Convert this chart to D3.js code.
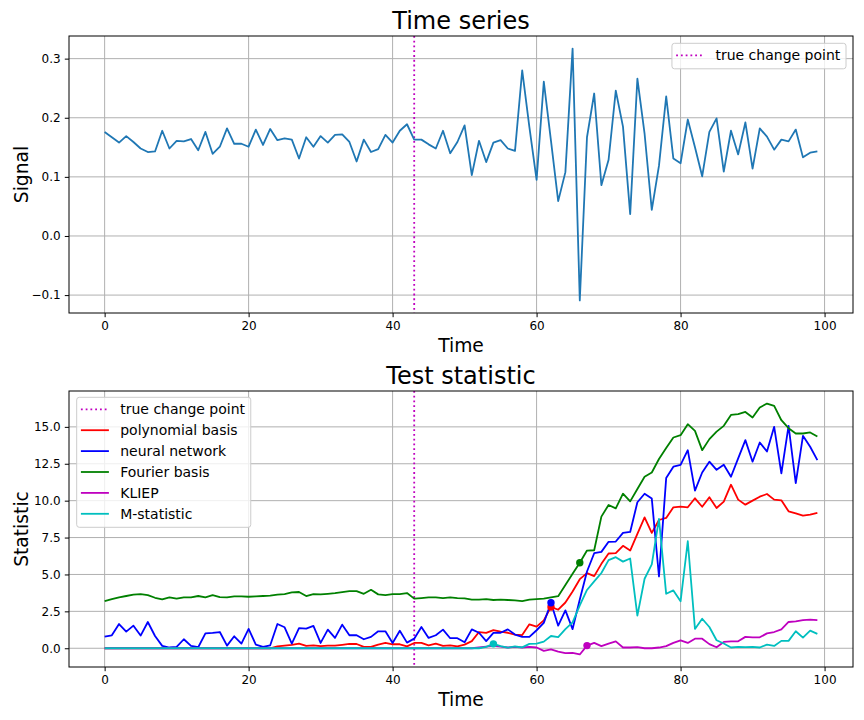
<!DOCTYPE html>
<html>
<head>
<meta charset="utf-8">
<script src="https://cdn.jsdelivr.net/npm/d3@7"></script>
<style>
  body { margin: 0; background: #fff; }
  svg text { font-family: "DejaVu Sans", sans-serif; fill: #000; }
</style>
</head>
<body>
<svg id="chart" width="864" height="720"></svg>
<script>

// values
var signal = [
    0.176, 0.167, 0.158, 0.169, 0.159, 0.148, 0.142, 0.143, 0.178, 0.148,
    0.161, 0.160, 0.164, 0.145, 0.176, 0.139, 0.151, 0.182, 0.156, 0.156,
    0.151, 0.180, 0.154, 0.181, 0.162, 0.165, 0.163, 0.131, 0.167, 0.151,
    0.169, 0.158, 0.171, 0.172, 0.159, 0.126, 0.163, 0.142, 0.147, 0.171,
    0.158, 0.178, 0.189, 0.163, 0.163, 0.155, 0.148, 0.178, 0.140, 0.159,
    0.187, 0.103, 0.161, 0.125, 0.158, 0.162, 0.148, 0.144, 0.280, 0.184,
    0.095, 0.261, 0.161, 0.059, 0.108, 0.317, -0.109, 0.167, 0.241, 0.086,
    0.129, 0.246, 0.185, 0.037, 0.266, 0.173, 0.044, 0.119, 0.236, 0.131,
    0.123, 0.197, 0.150, 0.101, 0.176, 0.199, 0.109, 0.178, 0.138, 0.192,
    0.114, 0.182, 0.168, 0.146, 0.163, 0.160, 0.180, 0.133, 0.141, 0.143
];

var polynomial = [
    0, 0, 0, 0, 0, 0, 0, 0, 0, 0,
    0, 0, 0, 0, 0, 0, 0, 0, 0, 0,
    0, 0, 0, 0, 0.13, 0.18, 0.23, 0.32, 0.16, 0.20,
    0.15, 0.18, 0.18, 0.23, 0.29, 0.29, 0.09, 0.09, 0.25, 0.36,
    0.27, 0.27, 0.13, 0.36, 0.36, 0.20, 0.32, 0.16, 0.20, 0.13,
    0.25, 0.48, 1.10, 1.04, 1.23, 1.12, 1.05, 0.93, 0.89, 1.62,
    1.47, 1.89, 2.80, 2.61, 3.10, 3.85, 4.68, 5.09, 4.89, 5.72,
    6.42, 6.44, 6.94, 6.62, 7.75, 8.87, 7.82, 8.69, 8.83, 9.55,
    9.59, 9.55, 10.16, 9.59, 10.23, 9.50, 9.93, 11.08, 10.07, 9.73,
    10.00, 10.27, 10.45, 10.07, 10.02, 9.28, 9.14, 8.99, 9.05, 9.17
];

var neural = [
    0.79, 0.88, 1.64, 1.13, 1.53, 0.86, 1.78, 0.83, 0.16, 0.05,
    0.09, 0.61, 0.16, 0.07, 1.01, 1.04, 1.10, 0.18, 0.81, 0.32,
    1.31, 0.25, 0.09, 0.20, 1.64, 1.42, 0.32, 1.37, 1.33, 1.51,
    0.36, 1.26, 0.70, 1.60, 0.88, 0.88, 0.61, 0.77, 1.15, 1.15,
    0.36, 1.19, 0.38, 0.65, 1.44, 0.70, 0.88, 1.26, 0.68, 0.68,
    0.41, 1.28, 1.05, 0.48, 1.04, 1.05, 1.28, 0.93, 0.77, 0.77,
    1.22, 1.72, 3.08, 1.53, 2.57, 1.30, 3.30, 5.20, 6.44, 6.53,
    7.21, 7.23, 7.82, 7.88, 9.89, 10.47, 10.14, 4.86, 11.53, 12.30,
    12.43, 13.42, 10.68, 11.91, 12.64, 12.09, 12.43, 11.62, 12.86, 14.10,
    12.64, 13.94, 13.33, 15.00, 11.85, 15.07, 11.19, 14.39, 13.65, 12.75
];

var fourier = [
    3.20, 3.33, 3.45, 3.54, 3.63, 3.67, 3.60, 3.42, 3.31, 3.45,
    3.36, 3.45, 3.45, 3.54, 3.45, 3.60, 3.47, 3.45, 3.51, 3.51,
    3.49, 3.51, 3.54, 3.56, 3.63, 3.67, 3.78, 3.81, 3.54, 3.67,
    3.65, 3.69, 3.74, 3.81, 3.87, 3.87, 3.69, 3.96, 3.65, 3.60,
    3.67, 3.67, 3.74, 3.36, 3.40, 3.45, 3.45, 3.40, 3.45, 3.40,
    3.38, 3.29, 3.29, 3.33, 3.27, 3.29, 3.27, 3.24, 3.20, 3.29,
    3.33, 3.36, 3.45, 3.53, 4.28, 5.05, 5.79, 6.62, 6.64, 8.92,
    9.71, 9.48, 10.47, 9.95, 10.79, 11.62, 11.91, 12.82, 13.56, 14.28,
    14.44, 15.18, 14.73, 13.42, 14.17, 14.68, 15.07, 15.81, 15.86, 16.01,
    15.63, 16.31, 16.58, 16.42, 15.45, 14.91, 14.55, 14.55, 14.62, 14.35
];

var kliep = [
    0, 0, 0, 0, 0, 0, 0, 0, 0, 0,
    0, 0, 0, 0, 0, 0, 0, 0, 0, 0,
    0, 0, 0, 0, 0, 0, 0, 0, 0, 0,
    0, 0, 0, 0, 0, 0, 0, 0, 0, 0,
    0, 0, 0, 0, 0, 0, 0, 0, 0, 0,
    0, 0, 0.05, 0.11, 0.16, 0.11, 0.05, 0.09, 0.05, 0.09,
    0.05, -0.18, -0.08, -0.23, -0.33, -0.32, -0.42, 0.18, 0.36, 0.14,
    0.32, 0.47, 0.05, 0.05, 0.07, 0.00, 0.00, 0.05, 0.14, 0.36,
    0.54, 0.36, 0.65, 0.65, 0.28, 0.07, 0.43, 0.47, 0.47, 0.77,
    0.74, 0.74, 1.01, 1.10, 1.28, 1.78, 1.82, 1.91, 1.94, 1.91
];

var mstat = [
    0, 0, 0, 0, 0, 0, 0, 0, 0, 0,
    0, 0, 0, 0, 0, 0, 0, 0, 0, 0,
    0, 0, 0, 0, 0, 0, 0, 0, 0, 0,
    0, 0, 0, 0, 0, 0, 0, 0, 0, 0,
    0, 0, 0, 0, 0, 0, 0, 0, 0, 0,
    0, 0, 0, 0.09, 0.30, 0.15, 0.04, 0.12, 0.06, 0.30,
    0.32, 0.45, 0.83, 0.76, 1.30, 1.75, 2.90, 3.95, 4.53, 5.10,
    5.97, 6.17, 5.87, 6.08, 2.21, 4.71, 5.68, 8.76, 3.69, 3.92,
    3.18, 7.25, 1.31, 2.00, 1.44, 0.54, 0.32, 0.05, 0.09, 0.07,
    0.09, 0.05, 0.25, 0.16, 0.50, 0.50, 1.15, 0.72, 1.19, 0.97
];

var changePoint = 43;
var seriesNames = ["polynomial basis", "neural network", "Fourier basis", "KLIEP", "M-statistic"];
var seriesColors = ["#ff0000", "#0000ff", "#008000", "#bf00bf", "#00bfbf"];
var detected = [62, 62, 66, 67, 54];

var xTicks = [0, 20, 40, 60, 80, 100];
var signalTicks = [-0.1, 0.0, 0.1, 0.2, 0.3];
var statTicks = [0, 2.5, 5, 7.5, 10, 12.5, 15];

var LEFT = 69, RIGHT = 853;
var LW = 1.8;

var svg = d3.select("#chart");

function padded(ext) {
    var d = (ext[1] - ext[0]) * 0.05;
    return [ext[0] - d, ext[1] + d];
}

var x = d3.scaleLinear().domain(padded([0, signal.length - 1])).range([LEFT, RIGHT]);

function panel(top, bottom, y, yTicks, title, ylabel) {
    var g = svg.append("g");

    // grid
    g.selectAll(".gx").data(xTicks).enter().append("line")
        .attr("x1", function(d) { return x(d); })
        .attr("x2", function(d) { return x(d); })
        .attr("y1", top).attr("y2", bottom)
        .attr("stroke", "#b0b0b0").attr("stroke-width", 1);
    g.selectAll(".gy").data(yTicks).enter().append("line")
        .attr("x1", LEFT).attr("x2", RIGHT)
        .attr("y1", function(d) { return y(d); })
        .attr("y2", function(d) { return y(d); })
        .attr("stroke", "#b0b0b0").attr("stroke-width", 1);

    var xa = g.append("g")
        .attr("transform", "translate(0," + bottom + ")")
        .call(d3.axisBottom(x).tickValues(xTicks).tickSize(4.2).tickPadding(4.2).tickFormat(d3.format("d")));
    var ya = g.append("g")
        .attr("transform", "translate(" + LEFT + ",0)")
        .call(d3.axisLeft(y).tickValues(yTicks).tickSize(4.2).tickPadding(4.2).tickFormat(d3.format(".1f")));
    [xa, ya].forEach(function(a) {
        a.select(".domain").remove();
        a.attr("font-size", 12).attr("font-family", "DejaVu Sans");
        a.selectAll("line").attr("stroke", "#000");
    });

    g.append("text")
        .attr("x", (LEFT + RIGHT) / 2).attr("y", top - 7.2)
        .attr("text-anchor", "middle").attr("font-size", 24)
        .text(title);
    g.append("text")
        .attr("x", (LEFT + RIGHT) / 2).attr("y", bottom + 39)
        .attr("text-anchor", "middle").attr("font-size", 18.7)
        .text("Time");
    g.append("text")
        .attr("transform", "translate(28," + (top + bottom) / 2 + ") rotate(-90)")
        .attr("text-anchor", "middle").attr("font-size", 18.7)
        .text(ylabel);

    // change point
    g.append("line")
        .attr("x1", x(changePoint)).attr("x2", x(changePoint))
        .attr("y1", top).attr("y2", bottom)
        .attr("stroke", "#bf00bf").attr("stroke-width", LW)
        .attr("stroke-dasharray", "1.8,2.97");

    return g;
}

function frame(top, bottom) {
    svg.append("rect")
        .attr("x", LEFT).attr("y", top)
        .attr("width", RIGHT - LEFT).attr("height", bottom - top)
        .attr("fill", "none").attr("stroke", "#000").attr("stroke-width", 1);
}

function legend(items, bx, by, alignRight) {
    var g = svg.append("g");
    var box = g.append("rect");
    var rows = g.selectAll(".row").data(items).enter().append("g");
    rows.append("line")
        .attr("x1", 4.2).attr("x2", 32.2).attr("y1", 0).attr("y2", 0)
        .attr("stroke", function(d) { return d.color; })
        .attr("stroke-width", LW)
        .attr("stroke-dasharray", function(d) { return d.dash ? "1.8,2.97" : null; });
    var texts = rows.append("text")
        .attr("x", 43.5).attr("dy", "0.35em").attr("font-size", 14)
        .text(function(d) { return d.label; });
    var tw = d3.max(texts.nodes(), function(n) { return n.getComputedTextLength(); });
    var w = 43.5 + tw + 5.7;
    var h = 12 + (items.length - 1) * 20.9 + 13.5;
    var x0 = alignRight ? bx - w : bx;
    rows.attr("transform", function(d, i) { return "translate(" + x0 + "," + (by + 12 + i * 20.9) + ")"; });
    box.attr("x", x0).attr("y", by).attr("width", w).attr("height", h)
        .attr("rx", 2.6).attr("fill", "#fff").attr("fill-opacity", 0.8)
        .attr("stroke", "#cccccc").attr("stroke-width", 1);
}

// top: time series
var T1 = 36, B1 = 313;
var ySig = d3.scaleLinear().domain(padded(d3.extent(signal))).range([B1, T1]);
var g1 = panel(T1, B1, ySig, signalTicks, "Time series", "Signal");
g1.append("path")
    .datum(signal)
    .attr("fill", "none")
    .attr("stroke", "#1f77b4")
    .attr("stroke-width", LW)
    .attr("stroke-linejoin", "round")
    .attr("d", d3.line().x(function(d, i) { return x(i); }).y(function(d) { return ySig(d); }));
frame(T1, B1);
legend([{ label: "true change point", color: "#bf00bf", dash: true }], 846, 43.3, true);

// bottom: test statistic
var T2 = 391, B2 = 667;
var stats = [polynomial, neural, fourier, kliep, mstat];
var allStats = d3.merge(stats);
var yStat = d3.scaleLinear().domain(padded(d3.extent(allStats))).range([B2, T2]);
var g2 = panel(T2, B2, yStat, statTicks, "Test statistic", "Statistic");
var line2 = d3.line().x(function(d, i) { return x(i); }).y(function(d) { return yStat(d); });
g2.selectAll(".series").data(stats).enter().append("path")
    .attr("fill", "none")
    .attr("stroke", function(d, i) { return seriesColors[i]; })
    .attr("stroke-width", LW)
    .attr("stroke-linejoin", "round")
    .attr("d", line2);
g2.selectAll(".dot").data(detected).enter().append("circle")
    .attr("cx", function(d) { return x(d); })
    .attr("cy", function(d, i) { return yStat(stats[i][d]); })
    .attr("r", 3.7)
    .attr("fill", function(d, i) { return seriesColors[i]; });
frame(T2, B2);

var items = [{ label: "true change point", color: "#bf00bf", dash: true }];
seriesNames.forEach(function(n, i) { items.push({ label: n, color: seriesColors[i] }); });
legend(items, 76.7, 397.3, false);

</script>
</body>
</html>
